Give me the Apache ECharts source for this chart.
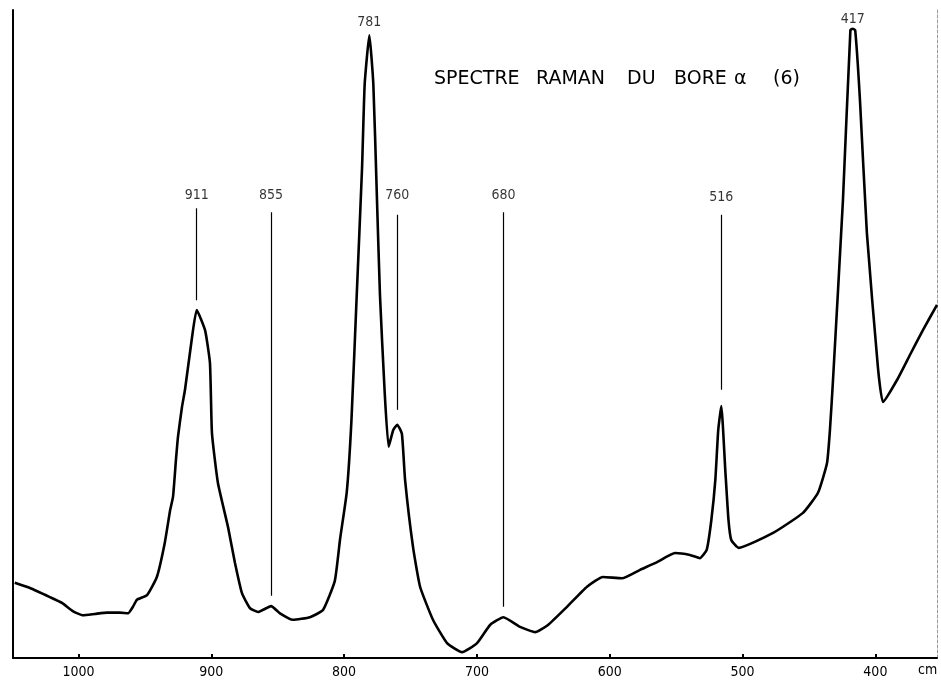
<!DOCTYPE html>
<html>
<head>
<meta charset="utf-8">
<script src="https://cdn.jsdelivr.net/npm/echarts@6/dist/echarts.min.js"></script>
<style>
  html, body { margin: 0; padding: 0; background: #ffffff; }
  #chart { width: 941px; height: 682px; }
</style>
</head>
<body>
<div id="chart"></div>
<script>
// Raman shift (cm-1) along the recorded trace, high to low
const wavenumbers = [
  1048, 1036.5, 1021.5, 1012.4, 1004, 996.6, 987.6, 978.5, 968.8, 962.7,
  959, 956, 948.4, 941, 935, 931, 928.8, 926.6, 925.1, 922.1,
  919.8, 914.5, 911, 904.7, 901, 899.5, 895, 887.4, 882.2, 876.9,
  870.9, 864.8, 855, 848.3, 838.5, 825.7, 815.9, 807, 803, 798,
  794.5, 790.5, 786.5, 784.5, 781, 778, 775.5, 773, 769.5, 766.5,
  763, 760, 756.5, 754.1, 748.1, 742.8, 733.1, 722.5, 711.2, 699.9,
  690.1, 680, 667.5, 656.2, 646.5, 632.2, 617.1, 605.1, 590.8, 577.2,
  564.4, 550.9, 539.6, 532.1, 527, 523.5, 520.5, 518.3, 516, 513,
  510.6, 508.5, 503, 477, 454.5, 443.2, 436.4, 434.2, 431.9, 424.4,
  418.8, 417, 415.2, 411.6, 406.4, 398.1, 394.3, 383.7, 373.9, 364.2,
  353.6
];
// relative scattered intensity (arbitrary units, 0-100)
const intensity = [
  11.6, 10.8, 9.4, 8.5, 7.2, 6.6, 6.8, 7.0, 7.0, 6.9,
  7.9, 9.0, 9.7, 12.5, 17.8, 22.8, 24.9, 30.6, 34.1, 38.7,
  41.4, 49.5, 53.7, 50.6, 45.5, 34.7, 27.0, 20.2, 14.7, 10.0,
  7.7, 7.1, 8.0, 6.9, 5.9, 6.3, 7.4, 11.9, 18.4, 25.6,
  36.6, 56.0, 75.6, 88.6, 96.1, 88.6, 72.4, 56.0, 41.2, 32.6,
  35.2, 36.0, 34.6, 27.5, 17.1, 11.0, 5.9, 2.3, 0.9, 2.3,
  5.1, 6.3, 4.8, 4.0, 5.1, 7.9, 11.0, 12.5, 12.3, 13.6,
  14.8, 16.2, 15.9, 15.4, 16.7, 21.3, 27.5, 35.2, 38.9, 29.0,
  21.3, 18.2, 17.0, 19.3, 22.4, 25.5, 30.1, 35.2, 42.9, 70.7,
  96.9, 97.1, 96.9, 86.1, 65.6, 44.9, 39.5, 42.9, 46.8, 50.6,
  54.5
];

// assigned bands, with the height of each label and of its leader line
const bandPositions   = [911, 855, 781, 760, 680, 516, 417];
const bandLabelLevel  = [71.4, 71.4, 98.1, 71.4, 71.4, 71.1, 98.6];
const bandLineTop     = [69.4, 68.8, null, 68.4, 68.8, 68.4, null];
const bandLineBottom  = [55.2, 9.6,  null, 38.3, 7.9,  41.4, null];

// graduation of the wavenumber axis
const tickValues = [1000, 900, 800, 700, 600, 500, 400];

// title words
const titleWords = ['SPECTRE', 'RAMAN', 'DU', 'BORE', '\u03b1', '(6)'];
const titleWordX = [434, 536, 627, 674, 734, 773];

const narrowFont = "'Liberation Sans Narrow', 'DejaVu Sans Condensed', 'Roboto', sans-serif";

const trace = wavenumbers.map((w, i) => [w, intensity[i]]);

const leaderLines = [];
bandPositions.forEach((b, i) => {
  if (bandLineTop[i] !== null) {
    leaderLines.push([{ coord: [b, bandLineTop[i]] }, { coord: [b, bandLineBottom[i]] }]);
  }
});

const bandLabels = bandPositions.map((b, i) => [b, bandLabelLevel[i]]);

const chart = echarts.init(document.getElementById('chart'), null, { renderer: 'canvas' });

chart.setOption({
  backgroundColor: '#ffffff',
  animation: false,
  grid: { left: 13, right: 4, top: 10, bottom: 24 },
  xAxis: {
    type: 'value',
    inverse: true,
    min: 353.6,
    max: 1049.3,
    axisLine: { show: true, onZero: true, lineStyle: { color: '#000', width: 2 } },
    axisTick: { show: true, inside: true, length: 4, customValues: tickValues, lineStyle: { color: '#000', width: 2 } },
    axisLabel: {
      show: true, customValues: tickValues, margin: 7,
      formatter: v => String(v),
      color: '#000', fontSize: 14, fontFamily: narrowFont
    },
    splitLine: { show: false }
  },
  yAxis: [
    {
      type: 'value', min: 0, max: 100, position: 'left',
      axisLine: { show: true, lineStyle: { color: '#000', width: 2 } },
      axisTick: { show: false }, axisLabel: { show: false }, splitLine: { show: false }
    },
    {
      type: 'value', min: 0, max: 100, position: 'right',
      axisLine: { show: true, lineStyle: { color: '#9a9a9a', width: 1, type: [3, 2] } },
      axisTick: { show: false }, axisLabel: { show: false }, splitLine: { show: false }
    }
  ],
  series: [
    {
      type: 'line',
      data: trace,
      showSymbol: false,
      smooth: 0.15,
      lineStyle: { color: '#000', width: 2.6 },
      z: 3,
      markLine: {
        silent: true,
        symbol: ['none', 'none'],
        label: { show: false },
        lineStyle: { color: '#000', width: 1.2, type: 'solid' },
        data: leaderLines
      }
    },
    {
      type: 'scatter',
      data: bandLabels,
      symbolSize: 0,
      silent: true,
      label: {
        show: true,
        position: 'inside',
        formatter: p => String(p.value[0]),
        color: '#000',
        fontSize: 14,
        fontFamily: narrowFont
      },
      z: 4
    }
  ],
  graphic: titleWords.map((w, i) => ({
    type: 'text',
    left: titleWordX[i],
    top: 70,
    style: {
      text: w,
      fill: '#000',
      font: "19px 'DejaVu Sans', sans-serif"
    }
  })).concat([{
    type: 'text',
    left: 918,
    top: 663,
    style: { text: 'cm', fill: '#000', font: "14px " + narrowFont }
  }])
});
</script>
</body>
</html>
